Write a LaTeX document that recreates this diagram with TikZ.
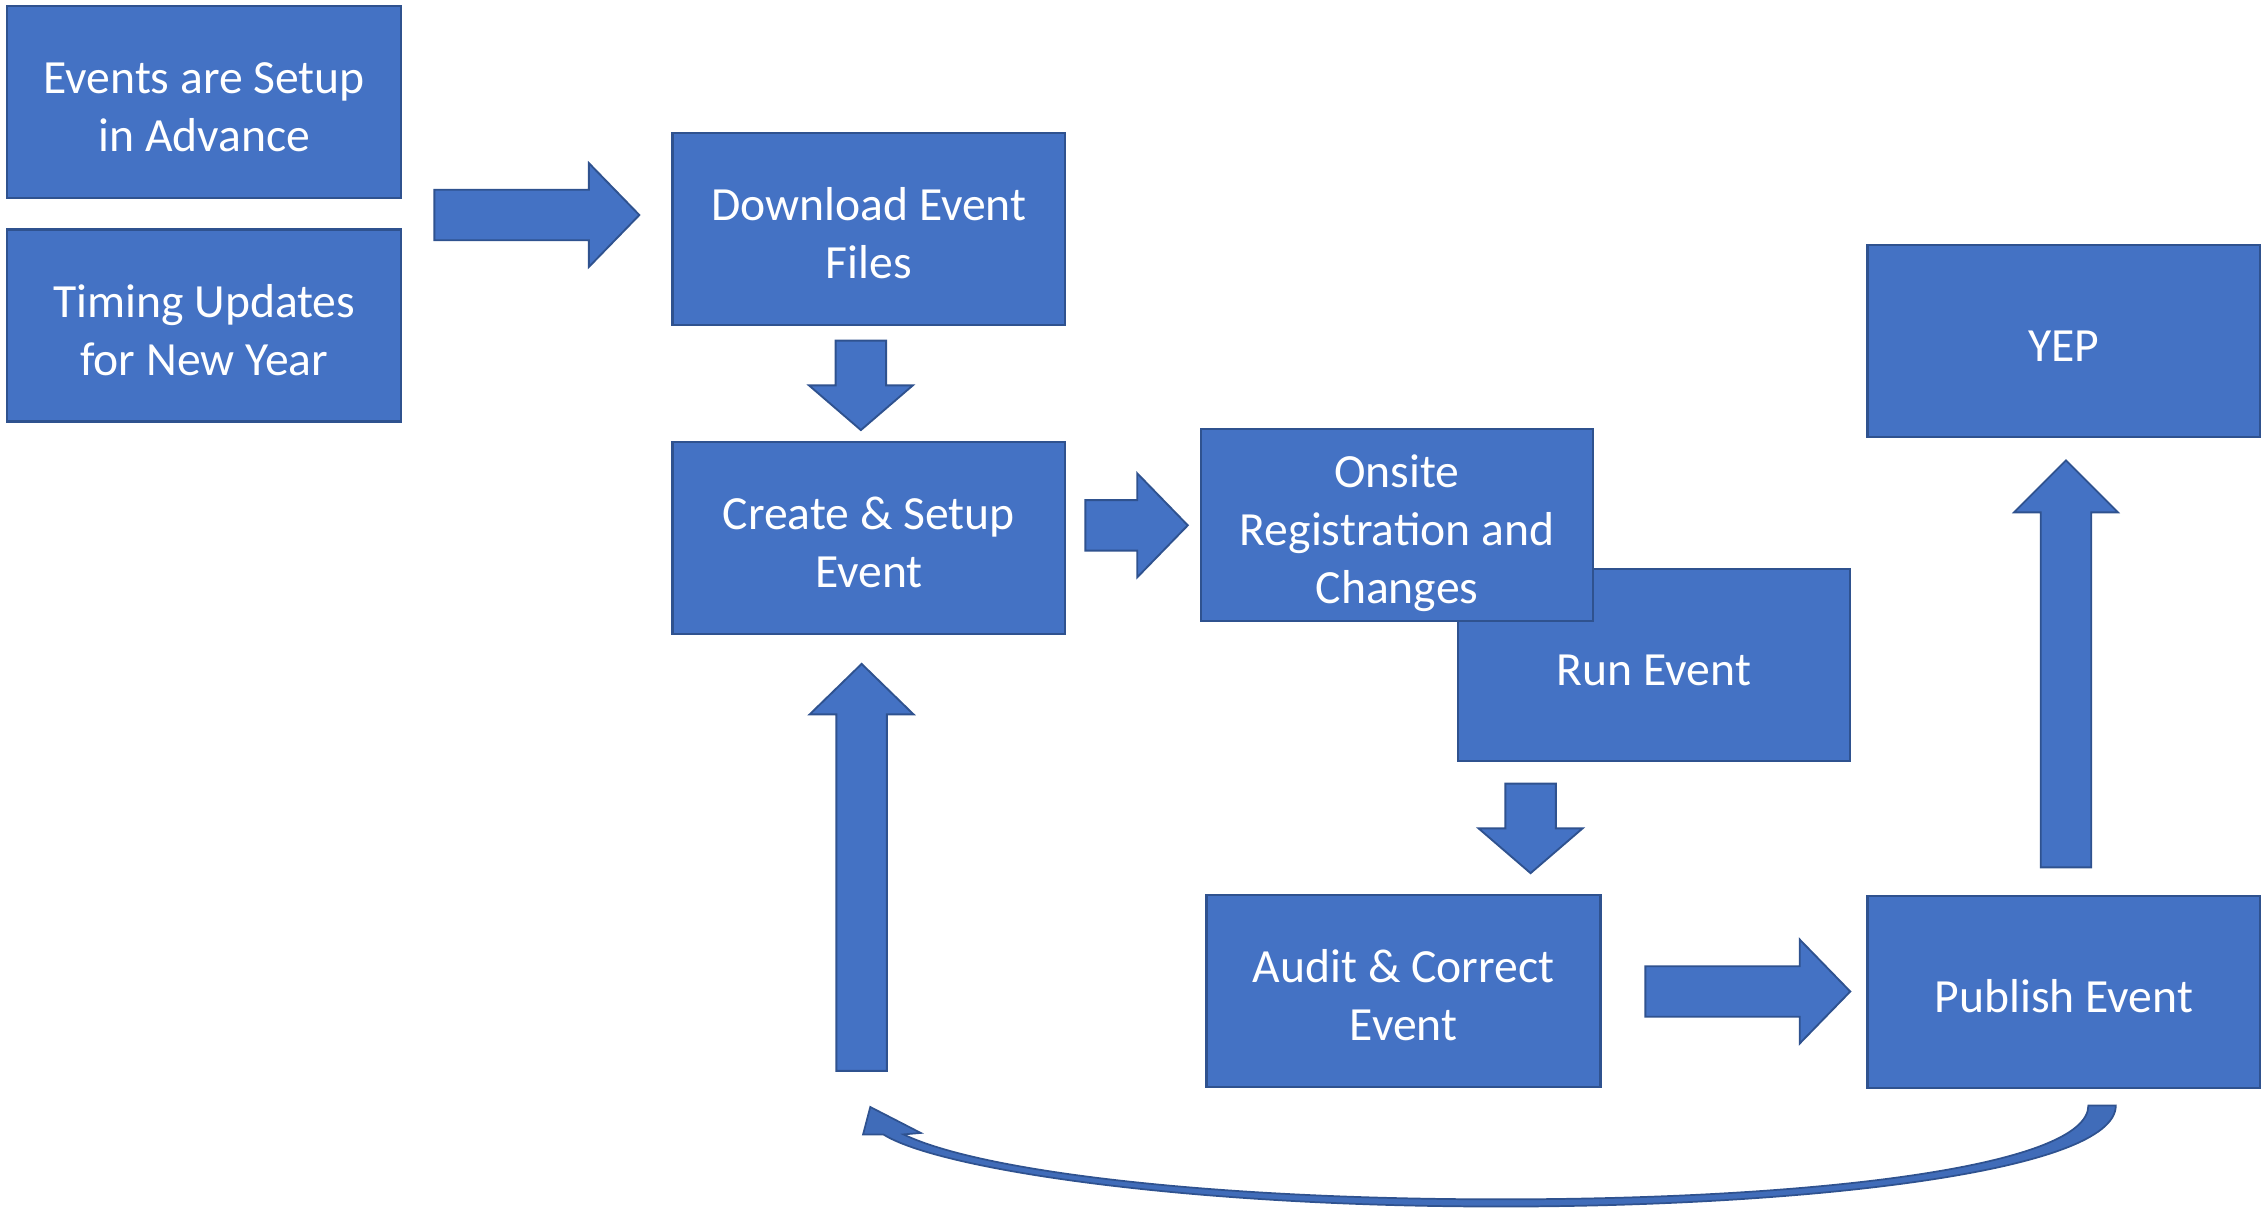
\documentclass[tikz,border=0pt]{standalone}
\usepackage{fontspec}
\setmainfont{Carlito}
\usepackage{tikz}
\usetikzlibrary{calc}
\definecolor{boxfill}{HTML}{4472C4}
\definecolor{boxline}{HTML}{2F528F}
\tikzset{
  procbox/.style={draw=boxline, fill=boxfill, line width=1.5pt, minimum width=272pt, minimum height=133pt,
    inner sep=0pt, text=white, align=center, text depth=0pt, text height=28pt, font=\fontsize{33}{40}\selectfont},
  twolines/.style={text height=69pt},
  threelines/.style={text height=109pt},
  blockarrow/.style={draw=boxline, fill=boxfill, line width=1.3pt, line join=miter}
}
% block arrow: [angle](start)(length:head length)
\def\blockarrow[#1](#2)(#3:#4){\begin{scope}[shift={(#2)}, rotate=#1]
  \draw[blockarrow] (0,-17.5) -- ({#3-#4},-17.5) -- ({#3-#4},-36) -- (#3,0) -- ({#3-#4},36) -- ({#3-#4},17.5) -- (0,17.5) -- cycle;
\end{scope}}

\begin{document}
\begin{tikzpicture}[x=1pt, y=-1pt]
			\useasboundingbox (0,0) rectangle (1568,837);
			
			%%%%% BOXES %%%%%
			\node[procbox, twolines, minimum width=273pt] (setup) at (141.5, 70.5) {Events are Setup\\in Advance};
			\node[procbox, twolines, minimum width=273pt] (timing) at (141.5, 225.5) {Timing Updates\\for New Year};
			\node[procbox, twolines] (download) at (602, 158.5) {Download Event\\Files};
			\node[procbox, twolines] (create) at (602, 372.5) {Create \& Setup\\Event};
			\node[procbox] (run) at (1146, 461) {Run Event};
			\node[procbox, threelines] (onsite) at (968, 363.5) {Onsite\\Registration and\\Changes};
			\node[procbox, twolines, minimum width=273pt] (audit) at (972.5, 686.5) {Audit \& Correct\\Event};
			\node[procbox] (publish) at (1430, 687.5) {Publish Event};
			\node[procbox] (yep) at (1430, 236.5) {YEP};
			
			%%%%% ARROWS %%%%%
			\blockarrow[0](301, 149)(142:35)
			\blockarrow[-90](596.5, 236)(62:31)
			\blockarrow[0](752, 364)(71:35)
			\blockarrow[-90](1060.5, 543)(62:31)
			\blockarrow[0](1140, 687)(142:35)
			\blockarrow[90](1431.5, 601)(282:36)
			\blockarrow[90](597, 742)(282:35)
			
			% curved return arrow from publish back to create
			\draw[draw=boxline, fill=boxfill!80!boxline, line width=1.2pt, line join=miter]
			  (1466, 766) .. controls (1466, 812) and (1250, 836) .. (1040, 836)
			  .. controls (820, 836) and (650, 810) .. (612, 786)
			  -- (598, 786) -- (603, 767) -- (638, 785) -- (626, 786)
			  .. controls (680, 812) and (840, 831) .. (1040, 831)
			  .. controls (1260, 831) and (1447, 808) .. (1447, 766) -- cycle;
			
\end{tikzpicture}
\end{document}
